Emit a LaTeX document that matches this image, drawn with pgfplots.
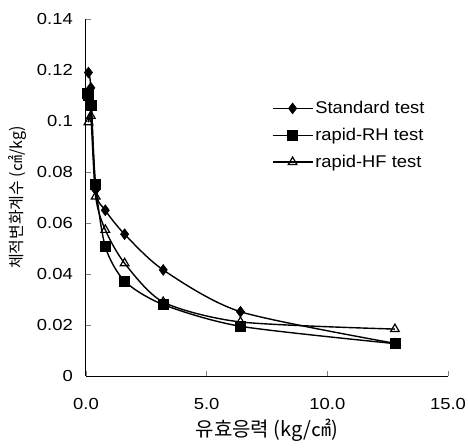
\documentclass[border=0pt]{standalone}
\usepackage{fontspec}
\setmainfont{Liberation Sans}
\newfontfamily\tickfont[FakeStretch=1.15]{Liberation Sans}
\newfontfamily\legfont[FakeStretch=1.08]{Liberation Sans}
\newfontfamily\cjk{Noto Sans CJK KR}
\usepackage{pgfplots}
\pgfplotsset{compat=1.18}

% consolidation test: coefficient of volume change vs effective stress
\pgfplotstableread{
x y
0.1 0.119
0.2 0.113
0.4 0.073
0.8 0.065
1.6 0.0556
3.2 0.0416
6.4 0.0252
12.8 0.0128
}\standard
\pgfplotstableread{
x y
0.05 0.111
0.1 0.110
0.2 0.106
0.4 0.075
0.8 0.0507
1.6 0.0372
3.2 0.0280
6.4 0.0195
12.8 0.0127
}\rapidRH
\pgfplotstableread{
x y
0.1 0.0995
0.2 0.102
0.4 0.0704
0.8 0.0573
1.6 0.0442
3.2 0.0290
6.4 0.0212
12.8 0.0184
}\rapidHF

\begin{document}
\begin{tikzpicture}
\begin{axis}[
    name=ax,
    scale only axis,
    width=362pt, height=357pt,
    xmin=0, xmax=15, ymin=0, ymax=0.14,
    axis lines=left,
    axis line style={-, line width=1pt},
    tick align=inside,
    major tick length=5pt,
    tick style={line width=0.8pt},
    xtick={0,5,10,15},
    xticklabels={0.0,5.0,10.0,15.0},
    ytick={0,0.02,0.04,0.06,0.08,0.1,0.12,0.14},
    yticklabels={0,0.02,0.04,0.06,0.08,0.1,0.12,0.14},
    /pgf/number format/assume math mode=true,
    tick label style={font=\tickfont\fontsize{16}{18}\selectfont, inner sep=0pt},
    xticklabel style={anchor=center, yshift=-28pt},
    yticklabel style={anchor=east, xshift=-13pt},
    xlabel={\cjk 유효응력 (kg/㎠)},
    ylabel={\cjk 체적변화계수 (㎠/kg)},
    xlabel style={font=\fontsize{20}{22}\selectfont, at={(axis description cs:0.5,-0.151)}, anchor=center},
    ylabel style={font=\fontsize{16}{18}\selectfont, at={(axis description cs:-0.19,0.5)}, anchor=center},
    clip=false,
    legend style={draw=none, fill=none, at={(0.513,0.775)}, anchor=north west,
        font=\legfont\fontsize{17}{19}\selectfont, row sep=9pt, inner sep=0pt,
        legend cell align=left},
    legend image code/.code={%
        \draw[mark repeat=2,mark phase=2] plot coordinates {(0pt,0pt) (20pt,0pt) (40pt,0pt)};},
    every axis plot/.append style={black, line width=1.4pt, smooth, tension=0.45},
]
\addplot[mark=diamond*, mark size=5.5pt, mark options={fill=black, line width=0.5pt}] table {\standard};
\addlegendentry{Standard test}
\addplot[mark=square*, mark size=5pt, mark options={fill=black, line width=0.5pt}] table {\rapidRH};
\addlegendentry{rapid-RH test}
\addplot[mark=triangle, mark size=5pt, mark options={fill=white, line width=1.2pt}] table {\rapidHF};
\addlegendentry{rapid-HF test}
\end{axis}
\pgfresetboundingbox
\path ([xshift=-86pt,yshift=-71pt]ax.south west) rectangle ([xshift=20pt,yshift=19pt]ax.north east);
\end{tikzpicture}
\end{document}
